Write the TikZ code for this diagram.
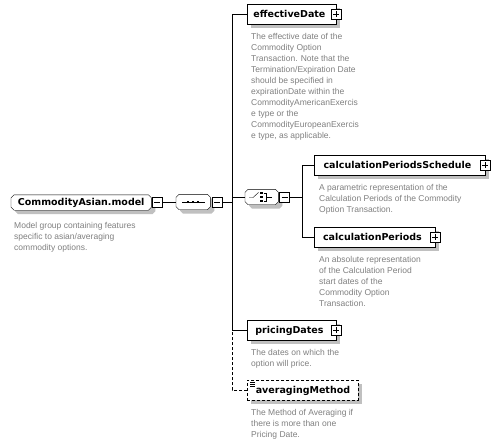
\documentclass[tikz,border=0pt]{standalone}
\usepackage{fontspec}
\setmainfont{Liberation Sans}
\newfontfamily\lblfont{DejaVu Sans}
\usetikzlibrary{shadows}
\definecolor{desccol}{RGB}{128,128,128}
\definecolor{shadecol}{RGB}{192,192,192}
\pgfdeclarelayer{background}
\pgfsetlayers{background,main}
\newcommand\octpath[3]{([xshift=#2+3pt,yshift=#3]#1.north west) -- ([xshift=#2-3pt,yshift=#3]#1.north east) -- ([xshift=#2,yshift=#3-3pt]#1.north east) -- ([xshift=#2,yshift=#3+3pt]#1.south east) -- ([xshift=#2-3pt,yshift=#3]#1.south east) -- ([xshift=#2+3pt,yshift=#3]#1.south west) -- ([xshift=#2,yshift=#3+3pt]#1.south west) -- ([xshift=#2,yshift=#3-3pt]#1.north west) -- cycle}
\newcommand\octbox[1]{\begin{pgfonlayer}{background}\fill[shadecol] \octpath{#1}{4pt}{-4pt};\draw[fill=white] \octpath{#1}{0pt}{0pt};\end{pgfonlayer}}
\begin{document}
\begin{tikzpicture}[x=1pt,y=-1pt, line width=0.8pt,
 shd/.style={drop shadow={shadow xshift=4pt,shadow yshift=-4pt,fill=shadecol,opacity=1}},
 elem/.style={draw, line width=0.9pt, fill=white, shd, rectangle, inner sep=0pt, minimum height=20pt, anchor=north west, font=\lblfont\bfseries\fontsize{9.5}{11}\selectfont},
 comp/.style={rectangle, inner sep=0pt, minimum height=15pt, anchor=west},
 pm/.style={draw, fill=white, minimum size=10pt, inner sep=0pt},
 minus/.style={pm, path picture={\draw ([xshift=2pt]path picture bounding box.west) -- ([xshift=-2pt]path picture bounding box.east);}},
 plus/.style={pm, path picture={\draw ([xshift=2pt]path picture bounding box.west) -- ([xshift=-2pt]path picture bounding box.east); \draw ([yshift=-2pt]path picture bounding box.north) -- ([yshift=2pt]path picture bounding box.south);}},
 desc/.style={anchor=north west, inner sep=0pt, align=left, text=desccol, font=\fontsize{8.5}{11}\selectfont},
 optline/.style={dash pattern=on 3pt off 2pt}
]
\begin{pgfonlayer}{background}
\fill[white] (0,0) rectangle (502,446);
\end{pgfonlayer}
\useasboundingbox (0,0) rectangle (502,446);

% root model group
\node[comp, minimum width=140pt, font=\lblfont\bfseries\fontsize{9.5}{11}\selectfont] (model) at (11,202.5) {CommodityAsian.model};
\octbox{model}
\node[minus] (modelm) at (157,202) {};
\node[desc] (modeld) at (14,221) {\rule{0pt}{7pt}Model group containing features\\specific to asian/averaging\\commodity options.};

% sequence
\node[comp, minimum width=34pt] (seq) at (176,202) {};
\octbox{seq}
\draw (182,202) -- (205,202);
\foreach \dx in {188,193,198} \fill (\dx-1.3,200.7) rectangle (\dx+1.3,203.3);
\node[minus] (seqm) at (217,202) {};
\coordinate (bar) at (232,202);

% effectiveDate
\node[elem, minimum width=89pt] (eff) at (247,4) {effectiveDate\kern5pt};
\node[plus] (effp) at (336,14) {};
\node[desc] (effd) at (251,32) {\rule{0pt}{7pt}The effective date of the\\Commodity Option\\Transaction. Note that the\\Termination/Expiration Date\\should be specified in\\expirationDate within the\\CommodityAmericanExercis\\e type or the\\CommodityEuropeanExercis\\e type, as applicable.};

% choice
\node[comp, minimum width=33pt] (choice) at (245,197) {};
\octbox{choice}
\draw (249,197.5) -- (253,197.5) -- (258.5,192.5);
\foreach \dy in {193,197,201} \fill (260,\dy-1.2) rectangle (262.5,\dy+1.2);
\draw (263.5,193) -- (266.5,193) -- (266.5,201) -- (263.5,201);
\draw (266.5,197) -- (272,197);
\node[minus] (choicem) at (284.5,197) {};
\coordinate (cbar) at (302,197);

% calculationPeriodsSchedule
\node[elem, minimum width=171pt] (sched) at (314,155) {calculationPeriodsSchedule\kern5pt};
\node[plus] (schedp) at (485,165) {};
\node[desc] (schedd) at (319,183) {\rule{0pt}{7pt}A parametric representation of the\\Calculation Periods of the Commodity\\Option Transaction.};

% calculationPeriods
\node[elem, minimum width=121pt] (cper) at (314,227) {calculationPeriods\kern5pt};
\node[plus] (cperp) at (435,237) {};
\node[desc] (cperd) at (319,255) {\rule{0pt}{7pt}An absolute representation\\of the Calculation Period\\start dates of the\\Commodity Option\\Transaction.};

% pricingDates
\node[elem, minimum width=89pt] (pricing) at (247,320) {pricingDates\kern5pt};
\node[plus] (pricingp) at (336,330) {};
\node[desc] (pricingd) at (251,348) {\rule{0pt}{7pt}The dates on which the\\option will price.};

% averagingMethod
\node[elem, optline, minimum width=111pt] (avg) at (247,380) {averagingMethod};
\draw[line width=0.6pt] (250,382.5) -- (255,382.5) (250,384.5) -- (255,384.5) (250,386.5) -- (255,386.5);
\node[desc] (avgd) at (251,408) {\rule{0pt}{7pt}The Method of Averaging if\\there is more than one\\Pricing Date.};

% connectors
\draw (modelm.east) -- (seq.west);
\draw (seqm.east) -- (bar);
\draw (eff.west) -| (bar);
\draw (pricing.west) -| (bar);
\draw (choice.west) -- (choice.west -| bar);
\draw[optline] (avg.west) -| (pricing.west -| bar);
\draw (choicem.east) -- (cbar);
\draw (sched.west) -| (cbar);
\draw (cper.west) -| (cbar);
\end{tikzpicture}
\end{document}
